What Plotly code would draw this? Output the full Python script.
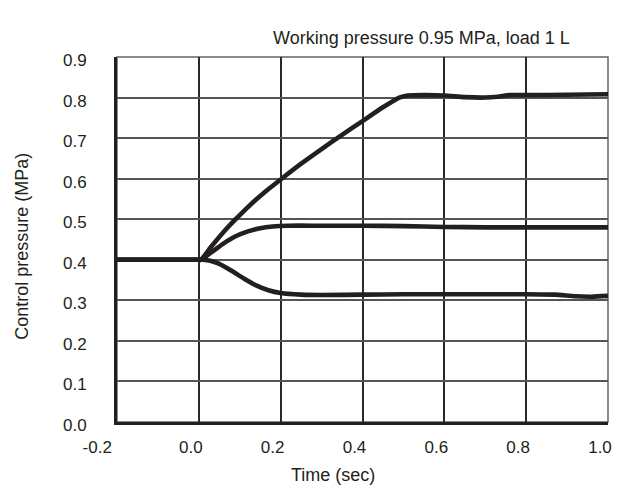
import plotly.graph_objects as go

# Data (time in s, control pressure in MPa)
t_high = [-0.2, 0.0, 0.005, 0.03, 0.06, 0.09, 0.12, 0.16, 0.2, 0.25, 0.3, 0.35, 0.4, 0.45, 0.49, 0.51, 0.55, 0.6, 0.65, 0.7, 0.73, 0.76, 0.8, 0.9, 1.0]
p_high = [0.40, 0.40, 0.40, 0.432, 0.468, 0.50, 0.530, 0.566, 0.598, 0.637, 0.673, 0.708, 0.742, 0.776, 0.80, 0.805, 0.806, 0.805, 0.801, 0.80, 0.802, 0.806, 0.806, 0.807, 0.808]

t_mid = [-0.2, 0.0, 0.005, 0.03, 0.06, 0.09, 0.12, 0.15, 0.18, 0.22, 0.3, 0.4, 0.5, 0.6, 0.7, 0.8, 0.9, 1.0]
p_mid = [0.40, 0.40, 0.40, 0.418, 0.44, 0.458, 0.47, 0.478, 0.482, 0.484, 0.484, 0.484, 0.483, 0.481, 0.480, 0.480, 0.480, 0.480]

t_low = [-0.2, 0.0, 0.01, 0.03, 0.05, 0.08, 0.11, 0.14, 0.17, 0.2, 0.25, 0.3, 0.4, 0.5, 0.6, 0.7, 0.8, 0.87, 0.92, 0.96, 1.0]
p_low = [0.40, 0.40, 0.40, 0.397, 0.39, 0.373, 0.354, 0.337, 0.325, 0.318, 0.314, 0.313, 0.314, 0.315, 0.315, 0.315, 0.315, 0.314, 0.31, 0.309, 0.311]

NB = "\u00a0"
x_ticks = [-0.2, 0.0, 0.2, 0.4, 0.6, 0.8, 1.0]
x_tick_text = ["-0.2" + NB * 5, "0.0", "0.2", "0.4", "0.6", "0.8", "1.0"]
y_ticks = [0.0, 0.1, 0.2, 0.3, 0.4, 0.5, 0.6, 0.7, 0.8, 0.9]
y_tick_text = ["0.0", "0.1", "0.2", "0.3", "0.4", "0.5", "0.6", "0.7", "0.8", "0.9"]

LINE = "#231f20"
FONT = "Liberation Sans, Arial, sans-serif"

fig = go.Figure()
for tx, py in [(t_high, p_high), (t_mid, p_mid), (t_low, p_low)]:
    fig.add_trace(go.Scatter(x=tx, y=py, mode="lines",
                             line=dict(color=LINE, width=4.6, shape="spline", smoothing=0.6),
                             showlegend=False, hoverinfo="skip"))

# frame (top/right thin grey)
fig.add_shape(type="rect", xref="paper", yref="paper", x0=0, y0=0, x1=1, y1=1,
              line=dict(color="#666666", width=1.5), layer="below")

fig.update_layout(
    width=630, height=501,
    margin=dict(l=117, r=22, t=57, b=79),
    paper_bgcolor="white", plot_bgcolor="white",
    font=dict(family=FONT, size=17, color="#231f20"),
    showlegend=False,
    annotations=[
        dict(text="Working pressure 0.95 MPa, load 1 L", xref="paper", yref="paper",
             x=0.62, y=1.0, yshift=7, xanchor="center", yanchor="bottom",
             showarrow=False, font=dict(size=18)),
        dict(text="Control pressure (MPa)", xref="paper", yref="paper",
             x=0, xshift=-95, y=0.48, xanchor="center", yanchor="middle",
             textangle=-90, showarrow=False, font=dict(size=18)),
        dict(text="Time (sec)", xref="paper", yref="paper",
             x=0.44, y=0, yshift=-41, xanchor="center", yanchor="top",
             showarrow=False, font=dict(size=18)),
    ],
)
fig.update_xaxes(range=[-0.2, 1.0], tickvals=x_ticks, ticktext=x_tick_text,
                 showgrid=True, gridcolor="#2a2a2a", gridwidth=1.5,
                 zeroline=False, showline=True, linecolor=LINE, linewidth=3,
                 ticks="", ticklabelshift=-8, ticklabelstandoff=8,
                 tickfont=dict(size=17))
fig.update_yaxes(range=[0.0, 0.9], tickvals=y_ticks, ticktext=y_tick_text,
                 showgrid=True, gridcolor="#555555", gridwidth=1.5,
                 zeroline=False, showline=True, linecolor=LINE, linewidth=3,
                 ticks="", ticklabelshift=3, ticklabelstandoff=24,
                 tickfont=dict(size=17))

fig.write_html("out.html")
